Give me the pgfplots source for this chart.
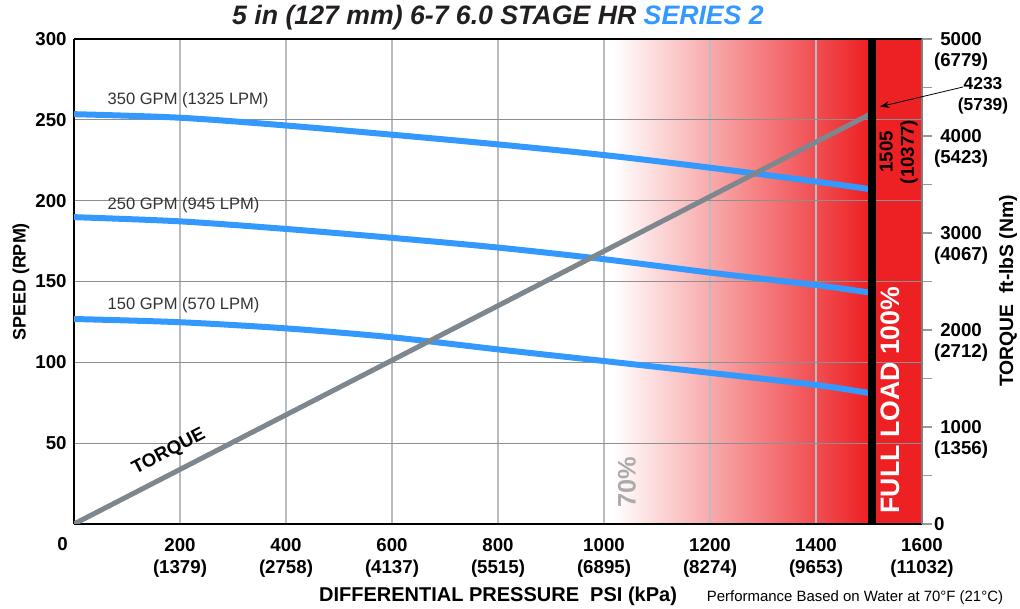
\documentclass[border=0pt]{standalone}
\usepackage{pgfplots}
\pgfplotsset{compat=1.18}
\usepackage{fontspec}
\setmainfont{Liberation Sans}
\usetikzlibrary{arrows.meta}
\definecolor{fullred}{HTML}{ED2024}
\definecolor{curveblue}{HTML}{3399FF}
\definecolor{torquegray}{HTML}{7E878D}
\definecolor{vgrid}{HTML}{B8BCC0}
\definecolor{hgrid}{HTML}{8C9094}
\definecolor{titlegray}{HTML}{231F20}
\definecolor{labelgray}{HTML}{333333}
\definecolor{pctgray}{HTML}{ABABAB}
\newcommand{\fs}[2]{\fontsize{#1}{#2}\selectfont}
\newcommand{\tl}[2]{\begin{tabular}[t]{@{}c@{}}#1\\(#2)\end{tabular}}
\begin{document}
\begin{tikzpicture}[x=0.75pt,y=0.75pt]
\pgfplotsset{common/.style={at={(55.5pt,63.75pt)}, anchor=south west, scale only axis,
  width=636pt, height=363.75pt, xmin=0, xmax=1600}}
% background shading
\begin{axis}[common, ymin=0, ymax=300, hide axis]
\fill[left color=white, right color=fullred] (axis cs:1017,0) rectangle (axis cs:1499,300);
\fill[fullred] (axis cs:1497,0) rectangle (axis cs:1600,300);
\end{axis}
% main (speed) axis
\begin{axis}[common, ymin=0, ymax=300,
  axis x line*=box, axis y line*=left,
  axis line style={black, line width=1.2pt},
  xtick={0,200,...,1600}, ytick={50,100,...,300},
  xticklabels={{},\tl{200}{1379},\tl{400}{2758},\tl{600}{4137},\tl{800}{5515},\tl{1000}{6895},\tl{1200}{8274},\tl{1400}{9653},\tl{1600}{11032}},
  yticklabels={50,100,150,200,250,300},
  major tick length=0pt,
  xmajorgrids, ymajorgrids,
  x grid style={vgrid, line width=0.8pt},
  y grid style={hgrid, line width=0.8pt},
  tick label style={font=\bfseries\fs{14}{16}, text=black},
  x tick label style={anchor=base, yshift=-21pt},
  y tick label style={xshift=-2pt},
]
\addplot[curveblue, line width=4.5pt, smooth] coordinates {
 (0,253.5) (200,251.3) (400,246.5) (600,240.8) (800,234.8) (1000,228.2) (1200,220.4) (1400,211.8) (1500,207.2)};
\addplot[curveblue, line width=4.5pt, smooth] coordinates {
 (0,189.8) (200,187.2) (400,182.5) (600,177.0) (800,171.0) (1000,163.8) (1200,155.5) (1400,147.8) (1500,143.2)};
\addplot[curveblue, line width=4.5pt, smooth] coordinates {
 (0,126.8) (200,124.8) (400,121.0) (600,115.5) (800,108.0) (1000,100.8) (1200,93.5) (1400,86.0) (1500,81.0)};
\end{axis}
% torque axis
\begin{axis}[common, ymin=0, ymax=5000,
  axis x line=none, axis y line*=right,
  axis line style={draw=gray, line width=0.8pt},
  ytick={0,500,...,5000},
  yticklabels={0,{},\tl{1000}{1356},{},\tl{2000}{2712},{},\tl{3000}{4067},{},\tl{4000}{5423},{},\tl{5000}{6779}},
  tick align=outside, major tick length=7.5pt,
  y tick style={draw=gray!80, line width=0.8pt},
  y tick label style={anchor=base west, xshift=-2pt, yshift=-5pt, font=\bfseries\fs{14}{16}, text=black},
]
\addplot[torquegray, line width=3.75pt, line cap=round] coordinates {(0,0) (1505,4233)};
\fill[black] (axis cs:1498,0) rectangle (axis cs:1513,5000);
\end{axis}
% texts
\node[font=\bfseries\itshape\fs{20}{24}, text=titlegray] at (498,591) {5 in (127 mm) 6-7 6.0 STAGE HR \textcolor{curveblue}{SERIES 2}};
\node[rotate=90, font=\bfseries\fs{13.5}{16}, text=black] at (21,327) {SPEED (RPM)};
\node[rotate=90, font=\bfseries\fs{14.5}{16}, text=black] at (1008,318) {TORQUE\ \ ft-lbS (Nm)};
\node[font=\bfseries\fs{15}{17}, text=black] at (498,13) {DIFFERENTIAL PRESSURE\ \ PSI (kPa)};
\node[font=\fs{11.2}{13}, text=black] at (855,11) {Performance Based on Water at 70°F (21°C)};
\node[font=\bfseries\fs{14}{16}, text=black] at (62.5,64.5) {0};
\node[anchor=west, font=\fs{12.4}{14}, text=labelgray] at (103,509) {350 GPM (1325 LPM)};
\node[anchor=west, font=\fs{12.4}{14}, text=labelgray] at (103,404) {250 GPM (945 LPM)};
\node[anchor=west, font=\fs{12.4}{14}, text=labelgray] at (103,304) {150 GPM (570 LPM)};
\node[rotate=27.5, font=\bfseries\fs{14}{16}, text=black] at (169,157) {TORQUE};
\node[rotate=90, font=\bfseries\fs{19}{22}, text=pctgray] at (627,127) {70\%};
\node[rotate=90, font=\bfseries\fs{20}{24}, text=white] at (890,209) {FULL LOAD 100\%};
\node[rotate=90, font=\bfseries\fs{14}{16}, text=black] at (899,457) {\begin{tabular}{@{}c@{}}1505\\(10377)\end{tabular}};
\node[font=\bfseries\fs{13}{16}, text=black] at (983,513.5) {\begin{tabular}{@{}c@{}}4233\\(5739)\end{tabular}};
\draw[-{Stealth[length=7pt,width=5pt]}, line width=0.6pt] (963,522) -- (880,502.3);
\pgfresetboundingbox
\path[use as bounding box] (0,0) rectangle (1020,609);
\end{tikzpicture}
\end{document}
